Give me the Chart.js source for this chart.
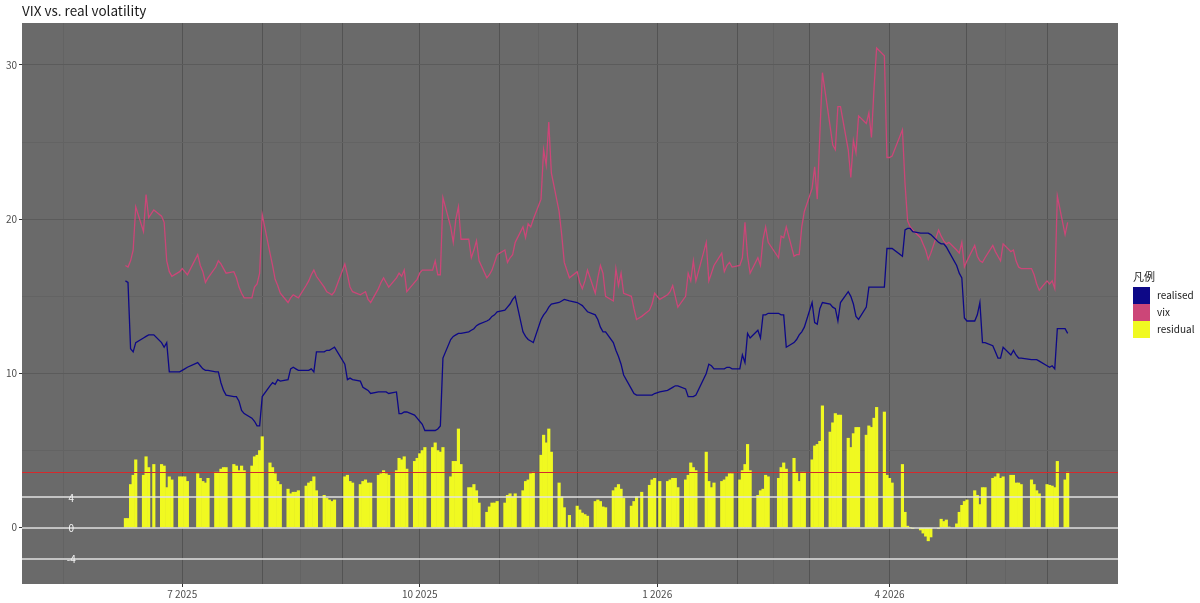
<!DOCTYPE html>
<html>
<head>
<meta charset="utf-8">
<script src="https://cdn.jsdelivr.net/npm/chart.js@4/dist/chart.umd.min.js"></script>
<style>
  html, body { margin: 0; padding: 0; background: #fff; }
  canvas { display: block; }
</style>
</head>
<body>
<canvas id="chart" width="1200" height="603"></canvas>
<script>
// ----- calendar -----
const firstDay = '2025-06-09';
const lastDay = '2026-06-09';
const holidays = ['2025-06-19', '2025-07-04', '2025-09-01', '2025-11-27', '2025-12-25',
                  '2026-01-01', '2026-01-19', '2026-02-16', '2026-04-03', '2026-05-25'];

// ----- series (one line per week) -----
const realised = [
  16.0, 15.9, 11.6, 11.4, 12.0,   // Jun 9
  12.3, 12.4, 12.5, 12.5,         // Jun 16
  12.0, 11.7, 12.0, 10.1, 10.1,   // Jun 23
  10.1, 10.2, 10.3, 10.4,         // Jun 30
  10.7, 10.5, 10.3, 10.2, 10.2,   // Jul 7
  10.1, 10.1, 9.4, 8.9, 8.6,      // Jul 14
  8.5, 8.5, 8.2, 7.6, 7.4,        // Jul 21
  7.1, 6.9, 6.6, 6.6, 8.5,        // Jul 28
  9.2, 9.4, 9.3, 9.6, 9.5,        // Aug 4
  9.6, 10.3, 10.4, 10.3, 10.2,    // Aug 11
  10.2, 10.2, 10.3, 10.1, 11.4,   // Aug 18
  11.4, 11.5, 11.5, 11.6, 11.7,   // Aug 25
  10.6, 9.6, 9.7, 9.6,            // Sep 2
  9.5, 9.1, 9.0, 8.9, 8.7,        // Sep 8
  8.8, 8.8, 8.8, 8.8, 8.7,        // Sep 15
  8.8, 7.4, 7.4, 7.5, 7.5,        // Sep 22
  7.3, 7.1, 6.9, 6.7, 6.3,        // Sep 29
  6.3, 6.3, 6.4, 6.6, 11.0,       // Oct 6
  12.2, 12.4, 12.5, 12.6, 12.6,   // Oct 13
  12.7, 12.8, 12.9, 13.1, 13.2,   // Oct 20
  13.4, 13.5, 13.7, 13.8, 14.0,   // Oct 27
  14.1, 14.3, 14.5, 14.8, 15.0,   // Nov 3
  12.7, 12.4, 12.2, 12.1, 12.0,   // Nov 10
  13.5, 13.8, 14.0, 14.3, 14.5,   // Nov 17
  14.6, 14.7, 14.8, 14.7,         // Nov 24
  14.6, 14.5, 14.4, 14.2, 14.0,   // Dec 1
  13.8, 13.5, 13.0, 12.7, 12.7,   // Dec 8
  12.0, 11.5, 11.1, 10.6, 9.9,    // Dec 15
  9.0, 8.7, 8.6, 8.6,             // Dec 22
  8.6, 8.6, 8.7, 8.8,             // Dec 29
  8.9, 9.0, 9.1, 9.2, 9.2,        // Jan 5
  9.0, 8.5, 8.5, 8.5, 8.6,        // Jan 12
  10.0, 10.6, 10.5, 10.3,         // Jan 20
  10.3, 10.3, 10.4, 10.4, 10.3,   // Jan 26
  10.3, 11.2, 10.7, 12.6, 12.3,   // Feb 2
  12.8, 12.3, 13.8, 13.8, 13.9,   // Feb 9
  13.9, 13.8, 13.8, 11.7,         // Feb 17
  12.0, 12.2, 12.5, 12.7, 13.0,   // Feb 23
  14.6, 13.3, 13.2, 14.2, 14.6,   // Mar 2
  14.5, 14.3, 14.2, 13.4, 14.6,   // Mar 9
  15.3, 15.0, 14.5, 13.7, 13.5,   // Mar 16
  14.3, 15.6, 15.6, 15.6, 15.6,   // Mar 23
  15.6, 18.1, 18.1, 18.1,         // Mar 30
  17.6, 19.3, 19.4, 19.4, 19.2,   // Apr 6
  19.1, 19.1, 19.1, 19.1, 19.0,   // Apr 13
  18.5, 18.4, 18.4, 18.2, 17.9,   // Apr 20
  17.0, 16.5, 16.2, 13.6, 13.4,   // Apr 27
  13.4, 13.8, 14.6, 12.0, 12.0,   // May 4
  11.8, 11.4, 11.0, 11.0, 11.7,   // May 11
  11.2, 11.5, 11.2, 11.0, 11.0,   // May 18
  10.9, 10.9, 10.9, 10.8,         // May 26
  10.5, 10.4, 10.5, 10.3, 12.9,   // Jun 1
  12.9, 12.6                      // Jun 8
];

const vix = [
  17.0, 16.9, 17.3, 18.0, 20.8,   // Jun 9
  19.2, 21.6, 20.1, 20.6,         // Jun 16
  20.2, 19.8, 17.3, 16.6, 16.3,   // Jun 23
  16.6, 16.8, 16.6, 16.4,         // Jun 30
  17.7, 17.0, 16.6, 15.9, 16.2,   // Jul 7
  16.9, 17.3, 17.1, 16.8, 16.5,   // Jul 14
  16.6, 16.2, 15.6, 15.2, 14.9,   // Jul 21
  14.9, 15.6, 15.8, 16.5, 20.3,   // Jul 28
  17.8, 17.0, 16.1, 15.7, 15.2,   // Aug 4
  14.6, 14.9, 15.1, 15.0, 14.9,   // Aug 11
  15.7, 16.0, 16.4, 16.7, 16.3,   // Aug 18
  15.6, 15.3, 15.2, 15.1, 15.3,   // Aug 25
  17.1, 16.4, 15.6, 15.3,         // Sep 2
  15.1, 15.2, 15.3, 14.8, 14.6,   // Sep 8
  15.5, 15.9, 16.2, 15.9, 15.6,   // Sep 15
  16.2, 16.5, 16.3, 16.7, 15.3,   // Sep 22
  15.9, 16.1, 16.5, 16.7, 16.7,   // Sep 29
  16.7, 17.3, 16.4, 16.4, 21.4,   // Oct 6
  19.5, 18.5, 20.0, 20.8, 18.7,   // Oct 13
  18.7, 17.5, 18.0, 18.6, 17.3,   // Oct 20
  16.2, 16.4, 16.7, 17.2, 17.7,   // Oct 27
  18.0, 17.2, 17.5, 17.7, 18.5,   // Nov 3
  19.5, 18.8, 19.7, 19.5, 20.0,   // Nov 10
  21.3, 24.5, 23.5, 26.3, 23.0,   // Nov 17
  20.5, 19.0, 17.2, 16.2,         // Nov 24
  16.6, 15.9, 15.5, 16.0, 16.7,   // Dec 1
  15.2, 16.2, 17.0, 16.5, 15.0,   // Dec 8
  14.7, 16.8, 15.7, 16.5, 15.2,   // Dec 15
  15.0, 14.2, 13.5, 13.7,         // Dec 22
  14.1, 14.5, 15.2, 14.8,         // Dec 29
  15.1, 15.3, 15.7, 15.0, 14.3,   // Jan 5
  15.0, 16.5, 16.0, 17.3, 16.0,   // Jan 12
  18.5, 16.0, 16.5, 17.0,         // Jan 20
  17.8, 16.6, 17.0, 17.2, 16.9,   // Jan 26
  17.0, 17.5, 19.8, 17.6, 16.5,   // Feb 2
  17.5, 17.0, 18.7, 19.5, 18.5,   // Feb 9
  17.5, 18.9, 18.8, 19.5,         // Feb 17
  17.6, 17.7, 17.7, 19.5, 20.5,   // Feb 23
  22.0, 23.4, 21.3, 25.5, 29.5,   // Mar 2
  26.0, 24.8, 24.5, 27.3, 27.3,   // Mar 9
  24.5, 22.7, 25.1, 24.3, 26.7,   // Mar 16
  26.2, 26.9, 25.3, 28.5, 31.1,   // Mar 23
  30.6, 24.0, 24.0, 24.1,         // Mar 30
  25.8, 22.3, 19.9, 19.5, 19.3,   // Apr 6
  18.8, 18.4, 18.0, 17.4, 17.8,   // Apr 13
  19.3, 18.9, 18.6, 18.4, 18.5,   // Apr 20
  18.0, 17.8, 18.5, 16.9, 17.3,   // Apr 27
  18.3, 17.6, 17.3, 17.2, 17.5,   // May 4
  18.3, 17.9, 17.6, 17.3, 18.4,   // May 11
  17.9, 18.0, 17.3, 16.9, 16.8,   // May 18
  16.8, 16.4, 15.8, 15.4,         // May 26
  16.0, 15.8, 16.0, 15.5, 21.5,   // Jun 1
  19.0, 19.8                      // Jun 8
];

// residual bars, in the units they are drawn at (labelled 4 / 0 / -4 at 2 / 0 / -2)
const residual = [
  0.6, 0.6, 2.8, 3.4, 4.4,        // Jun 9
  3.4, 4.6, 3.9, 4.1,             // Jun 16
  4.1, 4.0, 2.6, 3.3, 3.1,        // Jun 23
  3.3, 3.3, 3.3, 3.0,             // Jun 30
  3.5, 3.2, 3.0, 2.9, 3.2,        // Jul 7
  3.6, 3.6, 3.8, 3.9, 3.9,        // Jul 14
  4.1, 4.0, 3.7, 4.0, 3.7,        // Jul 21
  4.0, 4.6, 4.7, 5.0, 5.9,        // Jul 28
  4.2, 3.9, 3.5, 3.0, 2.8,        // Aug 4
  2.5, 2.2, 2.3, 2.3, 2.4,        // Aug 11
  2.7, 2.9, 3.0, 3.3, 2.4,        // Aug 18
  2.1, 1.9, 1.8, 1.7, 1.8,        // Aug 25
  3.3, 3.4, 3.0, 2.9,             // Sep 2
  2.8, 3.0, 3.1, 2.9, 2.9,        // Sep 8
  3.4, 3.5, 3.7, 3.5, 3.4,        // Sep 15
  3.7, 4.5, 4.4, 4.6, 3.8,        // Sep 22
  4.3, 4.5, 4.8, 5.0, 5.2,        // Sep 29
  5.2, 5.5, 5.0, 4.9, 5.2,        // Oct 6
  3.3, 4.3, 4.3, 6.4, 4.1,        // Oct 13
  2.6, 2.6, 2.8, 2.4, 1.6,        // Oct 20
  1.0, 1.35, 1.6, 1.6, 1.7,       // Oct 27
  1.6, 2.1, 2.2, 2.0, 2.2,        // Nov 3
  2.4, 3.0, 3.1, 3.5, 3.6,        // Nov 10
  4.7, 6.0, 5.5, 6.4, 4.9,        // Nov 17
  2.9, 2.0, 1.3, 0.8,             // Nov 24
  1.4, 1.15, 0.95, 0.85, 0.75,    // Dec 1
  1.7, 1.8, 1.7, 1.35, 1.3,       // Dec 8
  2.4, 2.6, 2.8, 2.5, 1.9,        // Dec 15
  1.4, 1.7, 2.0, 2.3,             // Dec 22
  2.75, 3.1, 3.2, 3.0,            // Dec 29
  3.0, 3.1, 3.2, 3.2, 2.6,        // Jan 5
  3.1, 3.4, 4.2, 3.9, 3.7,        // Jan 12
  4.9, 3.0, 2.6, 2.9,             // Jan 20
  3.0, 3.1, 3.3, 3.5, 3.5,        // Jan 26
  3.1, 3.7, 4.1, 5.4, 3.7,        // Feb 2
  2.1, 2.4, 2.5, 3.4, 3.3,        // Feb 9
  3.2, 3.9, 4.2, 3.8,             // Feb 17
  4.5, 3.6, 3.0, 3.6, 3.6,        // Feb 23
  4.4, 5.3, 5.4, 5.6, 7.9,        // Mar 2
  6.2, 6.8, 7.4, 7.3, 7.3,        // Mar 9
  5.8, 5.2, 6.1, 6.5, 6.5,        // Mar 16
  6.0, 6.6, 6.5, 7.1, 7.8,        // Mar 23
  7.5, 3.4, 3.2, 2.9,             // Mar 30
  4.1, 1.0, 0.1, 0.0, -0.05,      // Apr 6
  -0.15, -0.35, -0.55, -0.85, -0.6, // Apr 13
  -0.05, 0.55, 0.4, 0.5, 0.05,    // Apr 20
  0.25, 1.0, 1.45, 1.7, 1.8,      // Apr 27
  2.4, 2.1, 1.5, 2.6, 2.6,        // May 4
  3.2, 3.3, 3.5, 3.2, 3.3,        // May 11
  3.4, 3.4, 2.9, 2.9, 2.8,        // May 18
  3.1, 2.8, 2.4, 2.2,             // May 26
  2.8, 2.75, 2.7, 2.6, 4.3,       // Jun 1
  3.1, 3.6                        // Jun 8
];

// reference lines on the residual panel
const refLineValues = [2, 0, -2];
const refLineLabels = ['4', '0', '-4'];
const refLabelDate = '2025-05-19';
const residualMean = 3.63;

// ----- axes -----
const yRange = [-3.65, 32.72];
const yTicks = [0, 5, 10, 15, 20, 25, 30];
const yLabelled = [0, 10, 20, 30];
const xRange = ['2025-04-30', '2026-06-28'];
const xTickDates = ['2025-07-01', '2025-10-01', '2026-01-01', '2026-04-01'];
const xTickLabels = ['7 2025', '10 2025', '1 2026', '4 2026'];
const monthLines = ['2025-07-01', '2025-08-01', '2025-09-01', '2025-10-01', '2025-11-01', '2025-12-01',
                    '2026-01-01', '2026-02-01', '2026-03-01', '2026-04-01', '2026-05-01', '2026-06-01'];
const minorLines = ['2025-05-16', '2025-08-16', '2025-11-16', '2026-02-15', '2026-05-16'];

const seriesNames = ['realised', 'vix', 'residual'];
const seriesColors = ['#0D0887', '#CC4678', '#F0F921'];

const FONT = '"Noto Sans CJK JP", "Noto Sans", sans-serif';

// day number relative to 1 Jul 2025
const origin = Date.UTC(2025, 6, 1);
function dayNum(iso) {
  const [y, m, d] = iso.split('-').map(Number);
  return (Date.UTC(y, m - 1, d) - origin) / 864e5;
}

// trading days between first and last day
const tradingDays = [];
for (let t = dayNum(firstDay); t <= dayNum(lastDay); t++) {
  const d = new Date(origin + t * 864e5);
  const wd = d.getUTCDay();
  const iso = d.toISOString().slice(0, 10);
  if (wd === 0 || wd === 6 || holidays.includes(iso)) continue;
  tradingDays.push(iso);
}

const pts = arr => tradingDays.map((d, i) => ({ x: dayNum(d), y: arr[i] }));

const xTickNums = xTickDates.map(dayNum);
const monthNums = monthLines.map(dayNum);
const minorNums = minorLines.map(dayNum);
const tickVal = c => (c && c.tick ? c.tick.value : NaN);

// horizontal rule across the panel
function hRule(ctx, a, y, color, width) {
  ctx.strokeStyle = color;
  ctx.lineWidth = width;
  ctx.beginPath();
  ctx.moveTo(a.left, y);
  ctx.lineTo(a.right, y);
  ctx.stroke();
}

// panel background, reference lines, title and legend
const decor = {
  id: 'decor',
  beforeDraw(chart) {
    const { ctx, chartArea: a } = chart;
    ctx.save();
    ctx.fillStyle = '#6a6a6a';
    ctx.fillRect(a.left, a.top, a.right - a.left, a.bottom - a.top);
    ctx.restore();
  },
  afterDatasetsDraw(chart) {
    const { ctx, chartArea: a, scales } = chart;
    ctx.save();
    ctx.beginPath();
    ctx.rect(a.left, a.top, a.right - a.left, a.bottom - a.top);
    ctx.clip();
    // mean residual
    hRule(ctx, a, Math.round(scales.y.getPixelForValue(residualMean)) + 0.5, '#d42a2d', 1);
    // white guides
    refLineValues.forEach(v => {
      hRule(ctx, a, Math.round(scales.y.getPixelForValue(v)), '#e2e2e2', 1.6);
    });
    const lx = scales.x.getPixelForValue(dayNum(refLabelDate));
    ctx.fillStyle = '#f4f4f4';
    ctx.font = '10px ' + FONT;
    ctx.textAlign = 'center';
    ctx.textBaseline = 'middle';
    refLineValues.forEach((v, i) => {
      ctx.fillText(refLineLabels[i], lx, scales.y.getPixelForValue(v) + 1);
    });
    ctx.restore();
  },
  afterDraw(chart) {
    const { ctx } = chart;
    ctx.save();
    ctx.fillStyle = '#1a1a1a';
    ctx.font = '13.5px ' + FONT;
    ctx.textAlign = 'left';
    ctx.textBaseline = 'alphabetic';
    ctx.fillText('VIX vs. real volatility', 22, 16);
    // legend
    ctx.font = '11px ' + FONT;
    ctx.textBaseline = 'middle';
    ctx.fillText('凡例', 1133, 277);
    ctx.font = '10px ' + FONT;
    seriesNames.forEach((name, i) => {
      const top = 287 + i * 17;
      ctx.fillStyle = seriesColors[i];
      ctx.fillRect(1133, top, 17, 17);
      ctx.fillStyle = '#1a1a1a';
      ctx.fillText(name, 1157, top + 8.5);
    });
    ctx.restore();
  }
};

new Chart(document.getElementById('chart'), {
  data: {
    datasets: [
      { type: 'line', label: 'realised', data: pts(realised), borderColor: seriesColors[0],
        borderWidth: 1.3, pointRadius: 0, tension: 0, order: 1 },
      { type: 'line', label: 'vix', data: pts(vix), borderColor: seriesColors[1],
        borderWidth: 1.3, pointRadius: 0, tension: 0, order: 2 },
      { type: 'bar', label: 'residual', data: pts(residual), backgroundColor: seriesColors[2],
        borderWidth: 0, barThickness: 2.5, order: 3 }
    ]
  },
  options: {
    responsive: false,
    animation: false,
    devicePixelRatio: 1,
    layout: { padding: { top: 23, right: 82, left: 0, bottom: 0 } },
    plugins: { legend: { display: false }, title: { display: false }, tooltip: { enabled: false } },
    scales: {
      x: {
        type: 'linear',
        min: dayNum(xRange[0]) - 0.06,
        max: dayNum(xRange[1]) + 0.5,
        offset: false,
        afterBuildTicks: s => { s.ticks = [...monthNums, ...minorNums].map(v => ({ value: v })); },
        afterFit: s => { s.height = 19; },
        border: { display: false },
        grid: {
          offset: false,
          color: c => monthNums.includes(tickVal(c)) ? '#535353' : '#636363',
          lineWidth: 1,
          tickLength: 3,
          tickColor: c => xTickNums.includes(tickVal(c)) ? '#333333' : 'rgba(0,0,0,0)'
        },
        ticks: {
          autoSkip: false, maxRotation: 0, padding: 1, color: '#4d4d4d',
          font: { size: 10, family: FONT },
          callback: v => { const i = xTickNums.indexOf(v); return i < 0 ? '' : xTickLabels[i]; }
        }
      },
      y: {
        type: 'linear',
        min: yRange[0],
        max: yRange[1],
        afterBuildTicks: s => { s.ticks = yTicks.map(v => ({ value: v })); },
        afterFit: s => { s.width = 22; },
        border: { display: false },
        grid: {
          color: c => yLabelled.includes(tickVal(c)) ? '#5b5b5b' : '#636363',
          lineWidth: 1,
          tickLength: 3,
          tickColor: c => yLabelled.includes(tickVal(c)) ? '#333333' : 'rgba(0,0,0,0)'
        },
        ticks: {
          padding: 2, color: '#4d4d4d',
          font: { size: 10, family: FONT },
          callback: v => yLabelled.includes(v) ? String(v) : ''
        }
      }
    }
  },
  plugins: [decor]
});
</script>
</body>
</html>
